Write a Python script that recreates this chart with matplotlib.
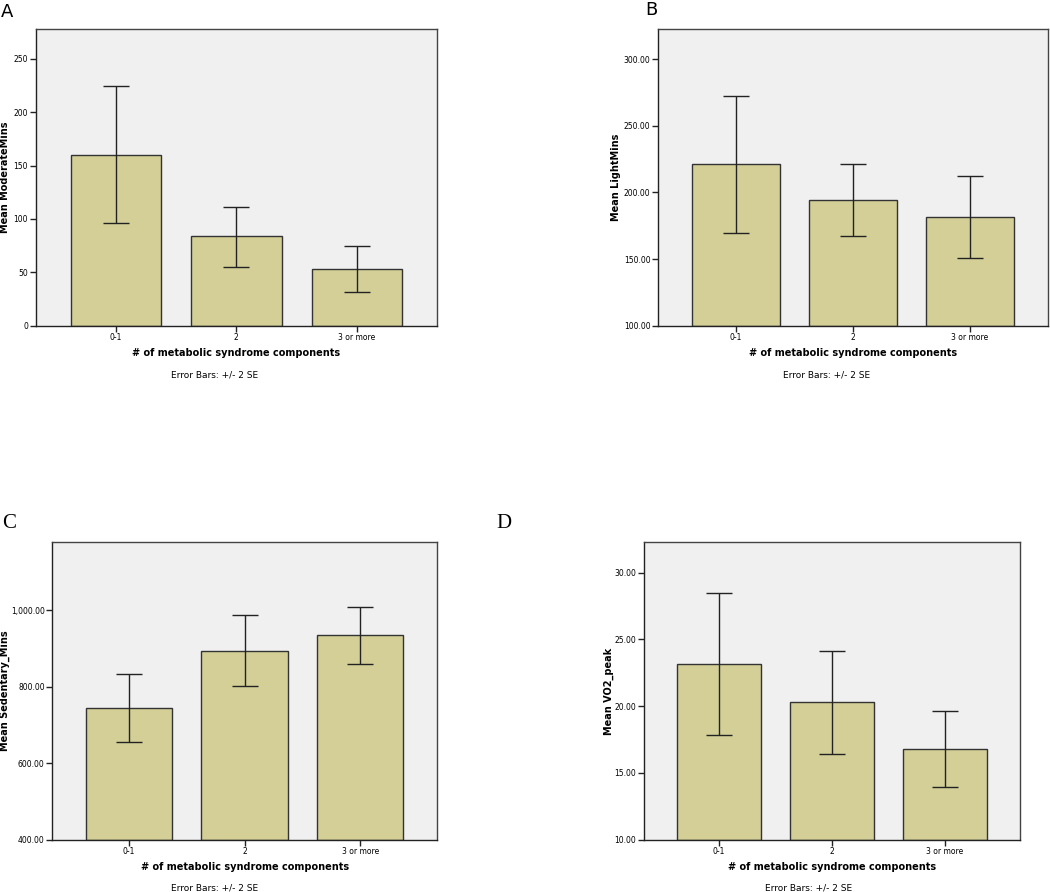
import matplotlib
matplotlib.use("Agg")
import matplotlib.pyplot as plt
from matplotlib.ticker import FuncFormatter

# Datos
categorias = ["0-1", "2", "3 or more"]

moderate_mean = [160.3, 84.1, 53.4]
moderate_low = [96.3, 55.3, 31.3]
moderate_high = [224.4, 111.6, 75.0]

light_mean = [221.0, 194.0, 181.5]
light_low = [169.8, 167.0, 150.8]
light_high = [272.0, 221.3, 212.3]

sedentary_mean = [745.4, 894.5, 936.3]
sedentary_low = [655.5, 801.2, 860.5]
sedentary_high = [833.4, 988.7, 1009.6]

vo2_mean = [23.16, 20.29, 16.82]
vo2_low = [17.84, 16.39, 13.92]
vo2_high = [28.48, 24.13, 19.66]

W, H = 1050, 892
BAR = "#d3cf97"
EDGE = "#333333"

fig = plt.figure(figsize=(W / 100, H / 100), dpi=100)


def px(x, y):
    # pixeles de la imagen -> fraccion de la figura
    return x / W, 1 - y / H


def panel(rect, mean, low, high, ylim, yticks, fmt, ylabel, ylab_x, xlab_y, err_x, err_y):
    l, t, r, b = rect
    ax = fig.add_axes([l / W, 1 - b / H, (r - l) / W, (b - t) / H])
    ax.set_facecolor("#f0f0f0")
    pos = list(range(len(categorias)))
    yerr = [[m - lo for m, lo in zip(mean, low)], [hi - m for m, hi in zip(mean, high)]]
    ax.bar(pos, [m - ylim[0] for m in mean], bottom=ylim[0], width=0.75, color=BAR,
           edgecolor=EDGE, linewidth=1.0, zorder=2)
    ax.errorbar(pos, mean, yerr=yerr, fmt="none", ecolor="#222222", elinewidth=1.0,
                capsize=9.7, capthick=1.0, zorder=3)
    ax.set_xlim(-0.665, 2.665)
    ax.set_ylim(*ylim)
    ax.set_yticks(yticks)
    ax.yaxis.set_major_formatter(FuncFormatter(fmt))
    ax.set_xticks(pos)
    ax.set_xticklabels(categorias)
    ax.tick_params(labelsize=5.5, length=4, width=1, color="#222222", pad=1.5)
    for s in ax.spines.values():
        s.set_color("#444444")
        s.set_linewidth(1.0)
    ax.spines["left"].set_color("#222222")
    ax.spines["bottom"].set_color("#222222")
    # textos
    cx = (l + r) / 2
    yc = (t + b) / 2
    fig.text(*px(ylab_x, yc), ylabel, rotation=90, ha="center", va="center",
             fontsize=7, fontweight="bold")
    fig.text(*px(cx, xlab_y), "# of metabolic syndrome components", ha="center",
             va="center", fontsize=7, fontweight="bold")
    fig.text(*px(err_x, err_y), "Error Bars: +/- 2 SE", ha="center", va="center",
             fontsize=6.5)
    return ax


entero = lambda v, p: f"{v:.0f}"
decimal = lambda v, p: f"{v:,.2f}"

panel((35.7, 29, 437, 325.7), moderate_mean, moderate_low, moderate_high,
      (0, 278), [0, 50, 100, 150, 200, 250], entero, "Mean ModerateMins",
      5, 352.7, 215, 375)
panel((658, 29, 1048, 325.7), light_mean, light_low, light_high,
      (100, 322.5), [100, 150, 200, 250, 300], decimal, "Mean LightMins",
      616, 352.7, 827, 375)
panel((52.3, 542.3, 437, 839.7), sedentary_mean, sedentary_low, sedentary_high,
      (400, 1178), [400, 600, 800, 1000], decimal, "Mean Sedentary_Mins",
      5, 867, 215, 888)
panel((644, 542.3, 1020, 839.7), vo2_mean, vo2_low, vo2_high,
      (10, 32.27), [10, 15, 20, 25, 30], decimal, "Mean VO2_peak",
      609, 867, 809, 888)

# Letras de los paneles
fig.text(*px(1, 12), "A", fontsize=13, ha="left", va="center", family="DejaVu Sans")
fig.text(*px(645, 10), "B", fontsize=13, ha="left", va="center", family="DejaVu Sans")
fig.text(*px(2, 523), "C", fontsize=15, ha="left", va="center", family="Liberation Serif")
fig.text(*px(496, 523), "D", fontsize=15, ha="left", va="center", family="Liberation Serif")

fig.savefig("out.png", dpi=100)
